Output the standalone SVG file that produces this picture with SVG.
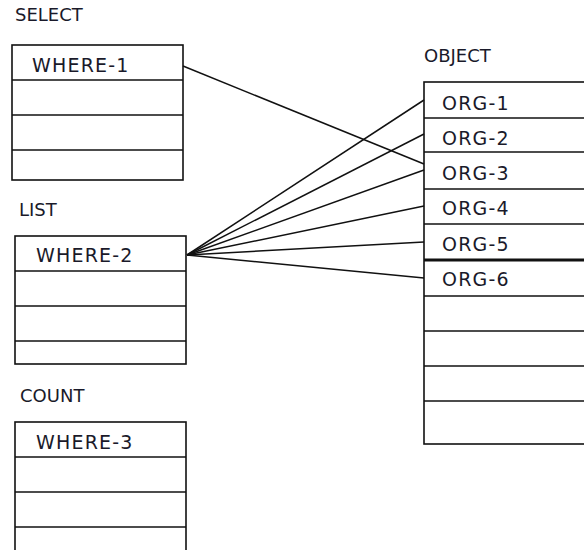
<svg xmlns="http://www.w3.org/2000/svg" width="584" height="550" viewBox="0 0 584 550">
<style>
.box{fill:#fff;stroke:#111;stroke-width:1.6}
.row{stroke:#111;stroke-width:1.6}
.thick{stroke:#111;stroke-width:3}
.lbl{font-family:"DejaVu Sans",Verdana,sans-serif;font-size:18px;fill:#1a1a2a}
.cell{font-family:"DejaVu Sans",Verdana,sans-serif;font-size:19px;letter-spacing:1.2px;fill:#1a1a2a}
.conn{stroke:#111;stroke-width:1.5;fill:none}
</style>
<rect width="584" height="550" fill="#fff"/>
<g id="select">
<text class="lbl" x="15" y="21">SELECT</text>
<rect class="box" x="12" y="45" width="171" height="135"/>
<line class="row" x1="12" y1="80" x2="183" y2="80"/>
<line class="row" x1="12" y1="115" x2="183" y2="115"/>
<line class="row" x1="12" y1="150" x2="183" y2="150"/>
<text class="cell" x="32" y="72">WHERE-1</text>
</g>
<g id="list">
<text class="lbl" x="19" y="216">LIST</text>
<rect class="box" x="15" y="236" width="171" height="128"/>
<line class="row" x1="15" y1="271" x2="186" y2="271"/>
<line class="row" x1="15" y1="306" x2="186" y2="306"/>
<line class="row" x1="15" y1="341" x2="186" y2="341"/>
<text class="cell" x="36" y="262">WHERE-2</text>
</g>
<g id="count">
<text class="lbl" x="20" y="402">COUNT</text>
<rect class="box" x="15" y="422" width="171" height="140"/>
<line class="row" x1="15" y1="457" x2="186" y2="457"/>
<line class="row" x1="15" y1="492" x2="186" y2="492"/>
<line class="row" x1="15" y1="527" x2="186" y2="527"/>
<text class="cell" x="36" y="449">WHERE-3</text>
</g>
<g id="object">
<text class="lbl" x="424" y="62">OBJECT</text>
<rect class="box" x="424" y="82" width="180" height="362"/>
<line class="row" x1="424" y1="118" x2="604" y2="118"/>
<line class="row" x1="424" y1="152" x2="604" y2="152"/>
<line class="row" x1="424" y1="189" x2="604" y2="189"/>
<line class="row" x1="424" y1="224" x2="604" y2="224"/>
<line class="thick" x1="424" y1="260" x2="604" y2="260"/>
<line class="row" x1="424" y1="296" x2="604" y2="296"/>
<line class="row" x1="424" y1="331" x2="604" y2="331"/>
<line class="row" x1="424" y1="366" x2="604" y2="366"/>
<line class="row" x1="424" y1="401" x2="604" y2="401"/>
<text class="cell" x="442" y="110">ORG-1</text>
<text class="cell" x="442" y="145">ORG-2</text>
<text class="cell" x="442" y="180">ORG-3</text>
<text class="cell" x="442" y="215">ORG-4</text>
<text class="cell" x="442" y="251">ORG-5</text>
<text class="cell" x="442" y="286">ORG-6</text>
</g>
<g id="connectors">
<line class="conn" x1="183" y1="66" x2="424" y2="164"/>
<line class="conn" x1="187" y1="255" x2="424" y2="100"/>
<line class="conn" x1="187" y1="255" x2="424" y2="134"/>
<line class="conn" x1="187" y1="255" x2="424" y2="170"/>
<line class="conn" x1="187" y1="255" x2="424" y2="206"/>
<line class="conn" x1="187" y1="255" x2="424" y2="242"/>
<line class="conn" x1="187" y1="255" x2="424" y2="278"/>
</g>
</svg>
